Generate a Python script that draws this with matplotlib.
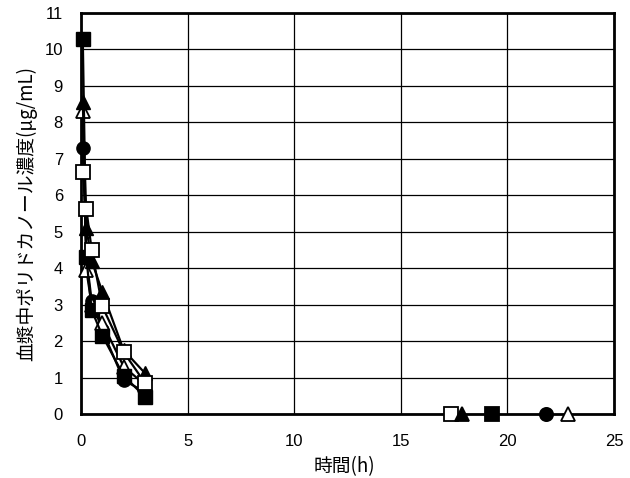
import matplotlib
matplotlib.use("Agg")
import matplotlib.pyplot as plt

plt.rcParams['font.family'] = ['Noto Sans CJK JP', 'DejaVu Sans']

# sampling times (h)
times = [0.083, 0.25, 0.5, 1, 2, 3]

# concentrations per subject
sq_filled = [10.3, 4.3, 2.85, 2.15, 1.05, 0.47]
tri_filled = [8.55, 5.1, 4.2, 3.35, 1.75, 1.12]
circ_filled = [7.3, 4.3, 3.1, 2.3, 0.93, 0.6]
sq_open = [6.65, 5.62, 4.5, 2.95, 1.7, 0.85]
tri_open = [8.3, 3.95, 3.0, 2.5, 1.3, 0.8]

# lone markers sitting on the x axis
lone_x = [17.35, 17.85, 19.3, 21.8, 22.85]
lone_y = [0, 0, 0, 0, 0]

xticks = [0, 5, 10, 15, 20, 25]
yticks = list(range(0, 12))

fig = plt.figure(figsize=(6.3, 4.78), dpi=100)
ax = fig.add_axes([0.1286, 0.1339, 0.8460, 0.8389])

ms = 9.5
lw = 1.6
ax.plot(times, circ_filled, '-o', color='black', lw=lw, ms=ms, mfc='black', mec='black', zorder=3, clip_on=False)
ax.plot(times, tri_open, '-^', color='black', lw=lw, ms=ms, mfc='white', mec='black', mew=1.3, zorder=3, clip_on=False)
ax.plot(times, tri_filled, '-^', color='black', lw=lw, ms=ms, mfc='black', mec='black', zorder=4, clip_on=False)
ax.plot(times, sq_filled, '-s', color='black', lw=lw, ms=ms, mfc='black', mec='black', zorder=4, clip_on=False)
ax.plot(times, sq_open, '-s', color='black', lw=lw, ms=ms, mfc='white', mec='black', mew=1.3, zorder=5, clip_on=False)

styles = [('s', 'white'), ('^', 'black'), ('s', 'black'), ('o', 'black'), ('^', 'white')]
for x, y, (m, fc) in zip(lone_x, lone_y, styles):
    ax.plot([x], [y], m, ms=ms, mfc=fc, mec='black', mew=1.3, clip_on=False, zorder=6)

ax.set_xlim(0, 25)
ax.set_ylim(0, 11)
ax.set_xticks(xticks)
ax.set_yticks(yticks)
ax.tick_params(length=0, labelsize=12)
ax.tick_params(axis='x', pad=14.5)
ax.tick_params(axis='y', pad=13)
for lab in ax.get_xticklabels() + ax.get_yticklabels():
    lab.set_family(['Liberation Sans', 'DejaVu Sans'])
ax.grid(True, color='black', lw=0.9)
ax.set_axisbelow(True)
for s in ax.spines.values():
    s.set_linewidth(2)

ax.set_xlabel('時間(h)', fontsize=13.5)
ax.set_ylabel('血漿中ポリドカノール濃度(μg/mL)', fontsize=13.5)
ax.xaxis.set_label_coords(0.495, -0.104)
ax.yaxis.set_label_coords(-0.083, 0.5)

fig.savefig('out.png', dpi=100)
